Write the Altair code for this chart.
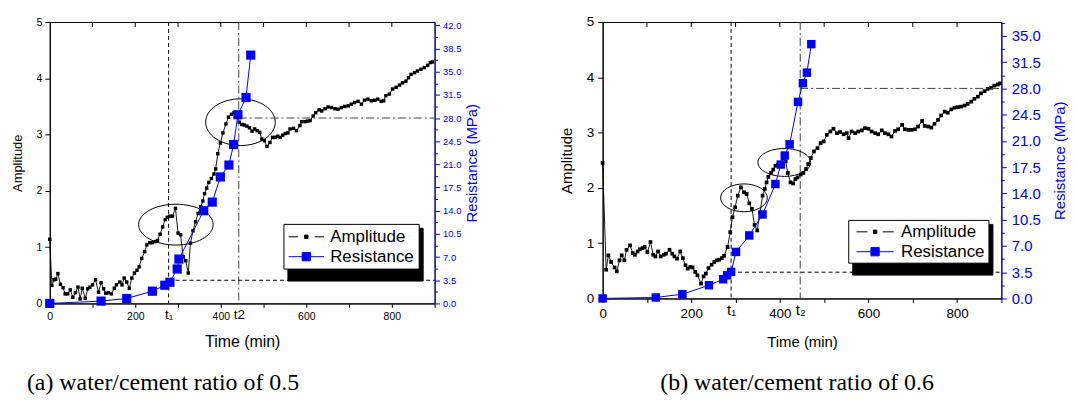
import altair as alt
import pandas as pd

BLUE = "#0000ff"
SANS = "Liberation Sans"
SERIF = "Liberation Serif"

# ---------------- data ----------------
SERIES = ["Amplitude", "Resistance"]
CAPTIONS = ["(a) water/cement ratio of 0.5", "(b) water/cement ratio of 0.6"]

# panel (a): w/c = 0.5
A_TIME = [0, 5, 10, 14, 19, 25, 31, 36, 42, 48, 54, 60, 66, 71, 76, 83, 89, 94, 100, 107,
          114, 120, 126, 131, 137, 144, 151, 156, 164, 169, 174, 180, 186, 192, 198, 204, 209,
          215, 222, 227, 234, 240, 247, 252, 258, 264, 270, 275, 281, 287, 294, 300, 306, 312,
          318, 324, 329, 335, 341, 347, 353, 358, 362, 367, 372, 378, 384, 388, 393, 399, 405,
          412, 418, 425, 431, 437, 443, 449, 455, 461, 467, 473, 479, 485, 491, 496, 502, 508,
          515, 521, 527, 533, 539, 545, 551, 557, 562, 570, 577, 585, 589, 597, 603, 609, 616,
          622, 630, 636, 644, 651, 659, 667, 674, 682, 690, 698, 705, 713, 721, 729, 736, 744,
          752, 760, 767, 775, 781, 786, 794, 802, 810, 818, 825, 833, 839, 845, 853, 860, 868,
          876, 884, 890, 895]
A_AMP = [1.14, 0.32, 0.42, 0.43, 0.53, 0.34, 0.28, 0.17, 0.17, 0.24, 0.11, 0.19, 0.29, 0.08,
         0.27, 0.09, 0.26, 0.29, 0.33, 0.42, 0.20, 0.37, 0.26, 0.18, 0.19, 0.17, 0.27, 0.33,
         0.38, 0.33, 0.45, 0.38, 0.27, 0.45, 0.54, 0.59, 0.65, 0.80, 0.92, 1.04, 1.08, 1.08,
         1.10, 1.12, 1.23, 1.36, 1.49, 1.53, 1.55, 1.55, 1.69, 1.25, 1.22, 0.83, 0.76, 0.54,
         1.07, 1.29, 1.45, 1.60, 1.72, 1.82, 1.95, 2.05, 2.15, 2.22, 2.30, 2.39, 2.66, 2.85,
         3.03, 3.19, 3.31, 3.36, 3.39, 3.33, 3.22, 3.18, 3.17, 3.15, 3.12, 3.06, 3.10, 3.07,
         3.04, 2.92, 2.89, 2.79, 2.86, 2.95, 2.95, 2.97, 2.95, 2.99, 3.02, 3.03, 3.10, 3.11,
         3.07, 3.16, 3.23, 3.23, 3.24, 3.25, 3.33, 3.39, 3.44, 3.42, 3.46, 3.49, 3.48, 3.46,
         3.45, 3.48, 3.50, 3.51, 3.54, 3.57, 3.59, 3.54, 3.61, 3.63, 3.60, 3.61, 3.63, 3.59,
         3.60, 3.69, 3.72, 3.81, 3.84, 3.88, 3.92, 3.95, 4.01, 4.07, 4.10, 4.13, 4.16, 4.19,
         4.23, 4.28, 4.29]
A_RES_TIME = [0, 120, 180, 240, 269, 281, 298, 302, 360, 380, 399, 419, 430, 440, 459, 470]
A_RES = [0, 0.35, 0.75, 1.85, 2.75, 3.2, 5.2, 6.7, 14.0, 15.3, 19.1, 20.9, 24.0, 28.5, 31.1, 37.5]
A_T1, A_T2 = 278, 442
A_ELLIPSES = [(295, 1.40), (446, 3.22)]

# panel (b): w/c = 0.6
B_TIME = [0, 8, 13, 19, 27, 32, 38, 43, 49, 54, 62, 68, 73, 79, 84, 90, 95, 101, 108, 114,
          119, 125, 131, 138, 143, 151, 157, 162, 168, 175, 181, 187, 192, 198, 203, 209, 214,
          222, 228, 233, 239, 246, 252, 258, 263, 269, 274, 282, 288, 293, 299, 305, 312, 319,
          325, 331, 337, 343, 349, 355, 361, 366, 370, 374, 380, 385, 390, 396, 402, 407, 413,
          418, 424, 430, 435, 440, 447, 453, 459, 464, 470, 477, 485, 492, 499, 506, 514, 521,
          529, 536, 544, 551, 555, 562, 570, 577, 585, 592, 600, 607, 615, 622, 630, 637, 645,
          652, 660, 667, 676, 682, 690, 697, 705, 712, 721, 727, 735, 742, 749, 757, 764, 772,
          779, 787, 794, 802, 809, 817, 824, 832, 839, 847, 854, 862, 869, 877, 884, 892, 897]
B_AMP = [2.45, 0.52, 0.78, 0.66, 0.56, 0.49, 0.69, 0.78, 0.69, 0.88, 0.96, 0.82, 0.79, 0.85,
         0.89, 0.91, 0.93, 0.84, 1.02, 0.79, 0.76, 0.85, 0.76, 0.79, 0.81, 0.88, 0.81, 0.76,
         0.72, 0.85, 0.73, 0.60, 0.54, 0.57, 0.56, 0.48, 0.42, 0.27, 0.40, 0.45, 0.55, 0.61,
         0.66, 0.69, 0.70, 0.73, 0.77, 0.93, 1.20, 1.47, 1.65, 1.86, 2.01, 1.92, 1.89, 1.72,
         1.62, 1.33, 1.23, 1.55, 1.86, 1.98, 2.10, 2.20, 2.27, 2.33, 2.40, 2.42, 2.45, 2.54,
         2.48, 2.27, 2.10, 2.08, 2.16, 2.19, 2.24, 2.27, 2.34, 2.43, 2.54, 2.66, 2.72, 2.81,
         2.84, 2.96, 3.02, 3.07, 2.99, 3.01, 2.97, 2.99, 2.90, 3.02, 2.99, 3.02, 3.04, 3.08,
         3.07, 3.02, 2.99, 2.97, 3.04, 2.99, 2.97, 2.93, 3.03, 3.06, 3.14, 3.06, 3.05, 3.05,
         3.06, 3.11, 3.21, 3.12, 3.11, 3.09, 3.16, 3.23, 3.31, 3.38, 3.36, 3.42, 3.45, 3.46,
         3.47, 3.49, 3.52, 3.56, 3.61, 3.65, 3.71, 3.75, 3.79, 3.81, 3.85, 3.87, 3.89]
B_RES_TIME = [0, 120, 180, 240, 272, 281, 290, 301, 331, 361, 390, 402, 411, 422, 441, 452, 461, 471]
B_RES = [0, 0.13, 0.57, 1.76, 2.56, 3.09, 3.53, 6.2, 8.4, 11.2, 15.25, 17.85, 19.05, 20.55,
         26.2, 28.7, 30.1, 33.9]
B_T1, B_T2 = 290, 446
B_ELLIPSES = [(319, 1.82), (410, 2.46)]

STRESS_LEVELS = [3.5, 28.0]          # MPa, horizontal guide lines
X_TICKS = [0, 100, 200, 300, 400, 500, 600, 700, 800, 900]
X_TOP_TICKS = [100, 200, 300, 400, 500, 600, 700, 800]
AMP_TICKS = [0, 0.5, 1, 1.5, 2, 2.5, 3, 3.5, 4, 4.5, 5]
RES_TICKS_A = [0, 1.75, 3.5, 5.25, 7, 8.75, 10.5, 12.25, 14, 15.75, 17.5, 19.25, 21, 22.75,
               24.5, 26.25, 28, 29.75, 31.5, 33.25, 35, 36.75, 38.5, 40.25, 42]
RES_TICKS_B = RES_TICKS_A[:22]
SHADOW_KEYS = ["A", "R"]


def ellipse_path(ry):
    k = 0.5523
    a = k * ry
    return (f"M 1 0 C 1 {a:.3f} {k} {ry:.3f} 0 {ry:.3f} "
            f"C {-k} {ry:.3f} -1 {a:.3f} -1 0 "
            f"C -1 {-a:.3f} {-k} {-ry:.3f} 0 {-ry:.3f} "
            f"C {k} {-ry:.3f} 1 {-a:.3f} 1 0 Z")


def glyph(ext, gap, half):
    return (f"M {-ext} 0 L {-gap} 0 M {gap} 0 L {ext} 0 "
            f"M {-half} {-half} L {half} {-half} L {half} {half} L {-half} {half} Z")


def panel(time, amp, rtime, res, t1, t2, t1_lab, t2_lab, res_max, res_ticks, ellipses,
          ell_px, caption, width, height, fs_tick, fs_t, fs_res, fs_amp_title, fs_res_title,
          fs_x_title, x_tpad, amp_pad, amp_tpad, res_pad, res_tpad, legend_xy,
          glyphs, sym_off, lab_off, leg_pad, leg_fs, cap_dx, cap_offset, amp_size, res_size):
    amp_df = pd.DataFrame({"t": time, "amp": amp})
    res_df = pd.DataFrame({"t": rtime, "res": res})

    tcond = f"datum.value == {t1} || datum.value == {t2}"
    x_axis = alt.Axis(
        title="Time (min)", values=sorted(X_TICKS + [t1, t2]), format="d",
        labelExpr=(f"datum.value == {t1} ? '{t1_lab}' : datum.value == {t2} ? '{t2_lab}' : "
                   "(datum.value % 200 == 0 ? datum.label : '')"),
        labelFontSize=alt.condition(tcond, alt.value(fs_t), alt.value(fs_tick)),
        tickSize=alt.condition(tcond, alt.value(0), alt.value(4)),
        labelFlush=False, labelOverlap=False, labelPadding=4, titlePadding=x_tpad,
        titleFontSize=fs_x_title)
    X = alt.X("t:Q", scale=alt.Scale(domain=[0, 900], nice=False, zero=False), axis=x_axis)

    amp_axis = alt.Axis(
        title="Amplitude", values=AMP_TICKS, format="d",
        labelExpr="datum.value % 1 == 0 ? datum.label : ''",
        tickSize=alt.condition("datum.value % 1 == 0", alt.value(5), alt.value(3)),
        labelFontSize=fs_tick, titleFontSize=fs_amp_title, labelPadding=amp_pad,
        titlePadding=amp_tpad)
    YA = alt.Y("amp:Q", scale=alt.Scale(domain=[0, 5], nice=False), axis=amp_axis)

    major = "round(datum.value / 1.75) % 2 == 0"
    res_axis = alt.Axis(
        title="Resistance (MPa)", orient="right", values=res_ticks,
        labelExpr=f"{major} ? format(datum.value, '.1f') : ''",
        tickSize=alt.condition(major, alt.value(5), alt.value(3)),
        domainColor=BLUE, tickColor=BLUE, labelColor=BLUE, titleColor=BLUE,
        labelFontSize=fs_res, titleFontSize=fs_res_title, labelPadding=res_pad,
        titlePadding=res_tpad, titleAngle=270, titleBaseline="top")
    YR = alt.Y("res:Q", scale=alt.Scale(domain=[0, res_max], nice=False), axis=res_axis)

    # ---- amplitude group ----
    amp_line = alt.Chart(amp_df).mark_line(color="black", strokeWidth=0.9).encode(x=X, y=YA)
    amp_pts = alt.Chart(amp_df).mark_point(shape="square", filled=True, size=amp_size,
                                           color="black", opacity=1).encode(x=X, y=YA)
    v1 = alt.Chart(pd.DataFrame({"t": [t1]})).mark_rule(
        color="black", strokeWidth=1, strokeDash=[4, 3]).encode(x=X)
    v2 = alt.Chart(pd.DataFrame({"t": [t2]})).mark_rule(
        color="#444444", strokeWidth=1, strokeDash=[8, 3, 2, 3]).encode(x=X)
    top_ticks = alt.Chart(pd.DataFrame({"t": X_TOP_TICKS})).mark_rule(
        color="black", strokeWidth=1).encode(x=X, y=alt.value(0), y2=alt.value(5))
    ell_layers = []
    for (et, ea), (w, h) in zip(ellipses, ell_px):
        ell_layers.append(
            alt.Chart(pd.DataFrame({"t": [et], "amp": [ea]})).mark_point(
                shape=ellipse_path(h / w), size=w * w, filled=False, stroke="black",
                strokeWidth=1, opacity=1).encode(x=X, y=YA))

    lx, ly = legend_xy
    common = dict(title=None, orient="none", padding=leg_pad, rowPadding=3,
                  labelFont=SANS, labelFontSize=leg_fs, labelLimit=0, symbolSize=289,
                  symbolStrokeWidth=1, symbolOffset=sym_off)
    leg = alt.Legend(legendX=lx, legendY=ly, fillColor="white", strokeColor="black",
                     labelColor="black", zindex=2, labelOffset=lab_off, **common)
    key_df = pd.DataFrame({"series": SERIES, "t": [-500, -500], "amp": [1, 1]})
    key = alt.Chart(key_df).mark_point(clip=True, opacity=1).encode(
        x=X, y=YA,
        fill=alt.Fill("series:N", scale=alt.Scale(domain=SERIES, range=["black", BLUE]),
                      legend=leg),
        stroke=alt.Stroke("series:N", scale=alt.Scale(domain=SERIES, range=["black", BLUE]),
                          legend=leg),
        shape=alt.Shape("series:N", scale=alt.Scale(domain=SERIES, range=glyphs), legend=leg))
    # drop shadow of the legend box: a black legend of the same size, offset by 4 px
    label_w = 4.946 * leg_fs   # width of "Resistance" in Liberation Sans
    shadow_leg = alt.Legend(legendX=lx + 4, legendY=ly + 4, fillColor="black",
                            strokeColor="black", labelColor="black", symbolFillColor="black",
                            symbolStrokeColor="black", zindex=1, labelExpr="''",
                            labelOffset=lab_off + label_w, **common)
    shadow_df = pd.DataFrame({"sk": SHADOW_KEYS, "t": [-500, -500], "amp": [1, 1]})
    shadow_key = alt.Chart(shadow_df).mark_point(clip=True, filled=True, opacity=1).encode(
        x=X, y=YA,
        color=alt.Color("sk:N", scale=alt.Scale(domain=SHADOW_KEYS, range=["black", "black"]),
                        legend=shadow_leg))
    amp_group = alt.layer(amp_line, amp_pts, v1, v2, top_ticks, *ell_layers, shadow_key, key)

    # ---- resistance group ----
    res_line = alt.Chart(res_df).mark_line(color=BLUE, strokeWidth=1).encode(x=X, y=YR)
    res_pts = alt.Chart(res_df).mark_point(shape="square", filled=True, size=res_size,
                                           color=BLUE, opacity=1).encode(x=X, y=YR)
    h1 = alt.Chart(pd.DataFrame({"t": [t1], "t_end": [900], "res": [STRESS_LEVELS[0]]})).mark_rule(
        color="black", strokeWidth=1, strokeDash=[4, 3]).encode(x=X, x2="t_end:Q", y=YR)
    h2 = alt.Chart(pd.DataFrame({"t": [t2], "t_end": [900], "res": [STRESS_LEVELS[1]]})).mark_rule(
        color="#444444", strokeWidth=1, strokeDash=[8, 3, 2, 3]).encode(x=X, x2="t_end:Q", y=YR)
    res_group = alt.layer(h1, h2, res_line, res_pts)

    return alt.layer(amp_group, res_group).resolve_scale(y="independent").properties(
        width=width, height=height,
        title=alt.TitleParams(text=caption, orient="bottom", anchor="start", frame="group",
                              dx=cap_dx, offset=cap_offset, font=SERIF, fontSize=24,
                              fontWeight="normal", color="black", baseline="top"))


pa = panel(A_TIME, A_AMP, A_RES_TIME, A_RES, A_T1, A_T2, "t\u2081", "t2", 42.5, RES_TICKS_A,
           A_ELLIPSES, [(75, 41), (70, 47)], CAPTIONS[0], 387, 283, 10.5, 13.5, 9.5, 13,
           15, 16, 12, 3, 12, 3, 4, (235, 203),
           [glyph(2.1, 1.0, 0.2), glyph(2.1, 0.49, 0.49)], 10, 15, 4, 17, -23, 22, 12, 85)
pb = panel(B_TIME, B_AMP, B_RES_TIME, B_RES, B_T1, B_T2, "t\u2081", "t\u2082", 36.85,
           RES_TICKS_B, B_ELLIPSES, [(47, 28), (53, 28)], CAPTIONS[1], 401, 278, 13.5, 15,
           15, 15, 15, 15, 15, 4, 12, 5, 12, (247, 199),
           [glyph(2.2, 0.9, 0.2), glyph(2.2, 0.49, 0.49)], 15, 17, 3, 17, 58, 22, 14, 72)

chart = alt.hconcat(pa, pb, spacing=78).resolve_scale(
    fill="independent", stroke="independent", shape="independent",
    color="independent").resolve_legend(
    fill="independent", stroke="independent", shape="independent",
    color="independent").properties(
    padding={"left": 2, "top": 5, "right": 0, "bottom": 0}).configure(
    font=SANS).configure_view(stroke="black", strokeWidth=1).configure_axis(
    grid=False, domainColor="black", tickColor="black", labelColor="black",
    titleColor="black", titleFontWeight="normal", labelFont=SANS, titleFont=SANS,
    domainWidth=1, tickWidth=1)

chart.save("out.html", embed_options={"renderer": "svg", "actions": False})
